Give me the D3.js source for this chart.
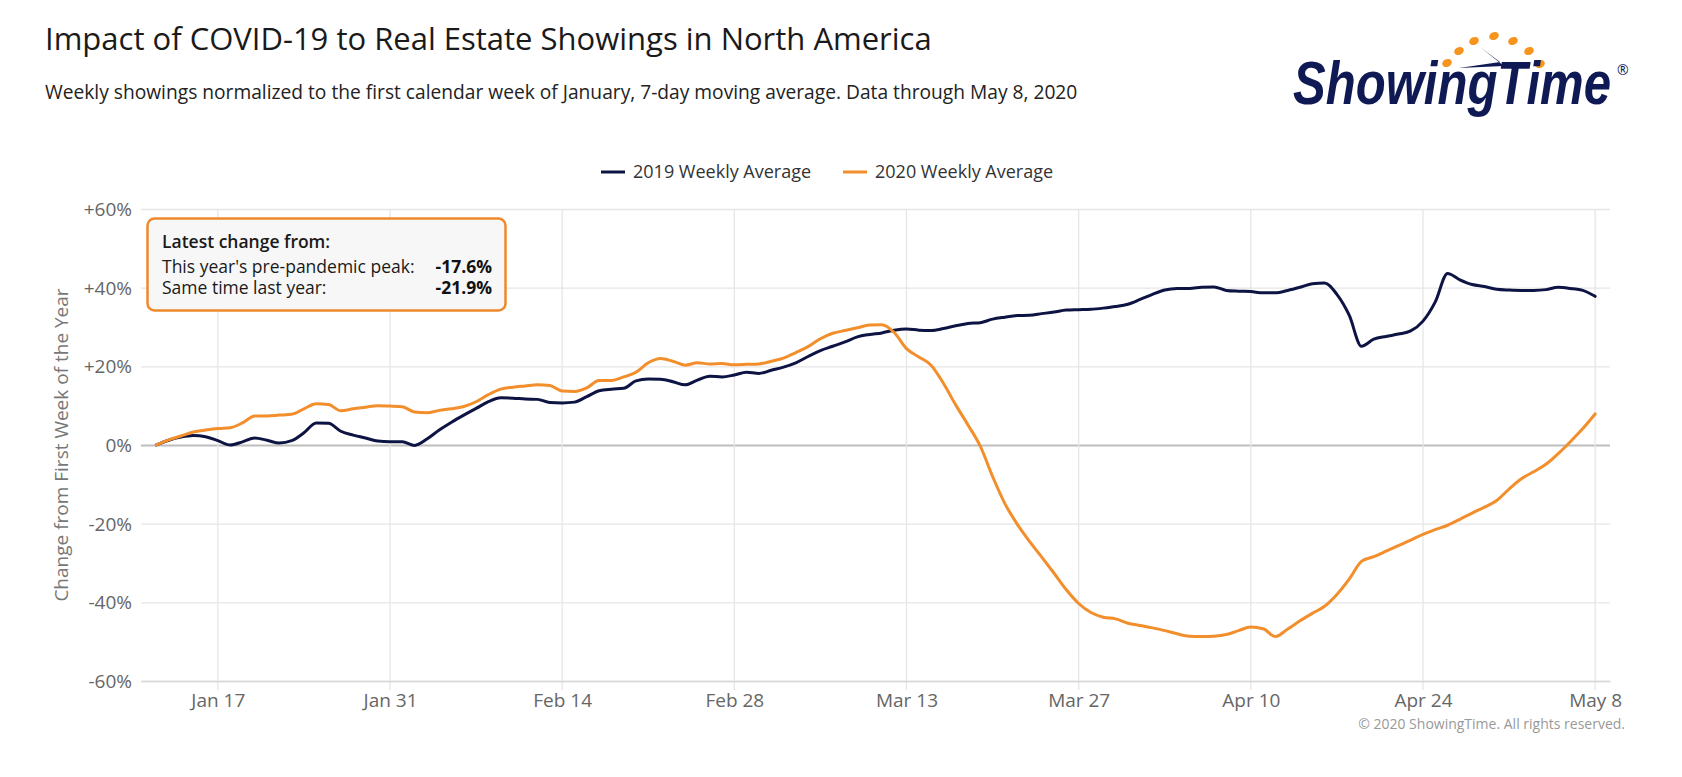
<!DOCTYPE html>
<html>
<head>
<meta charset="utf-8">
<script src="https://cdnjs.cloudflare.com/ajax/libs/d3/7.8.5/d3.min.js"></script>
<style>
  body { margin: 0; background: #fff; }
  svg { display: block; font-family: "Open Sans", "Noto Sans", sans-serif; }
</style>
</head>
<body>
<div id="chart"></div>
<script>
// ---- data (daily 7-day moving average, % change vs first week of January) ----
const startDate = "2020-01-12";
const tickLabels = ["2020-01-17", "2020-01-31", "2020-02-14", "2020-02-28", "2020-03-13",
                    "2020-03-27", "2020-04-10", "2020-04-24", "2020-05-08"];
const yTicks = [-60, -40, -20, 0, 20, 40, 60];
const seriesNames = ["2019 Weekly Average", "2020 Weekly Average"];

const values2019 = [
  0, 1.2, 2.0, 2.4, 2.1, 1.1, 0.0, 0.8, 1.8, 1.2,          // Jan 12-21
  0.5, 1.1, 3.1, 5.6, 5.5, 3.5, 2.5, 1.8, 1.0, 0.8,        // Jan 22-31
  0.8, -0.1, 1.5, 3.8, 5.8, 7.6, 9.3, 11.0, 12.0, 11.9,    // Feb 1-10
  11.7, 11.6, 10.8, 10.7, 10.9, 12.3, 13.8, 14.2, 14.4, 16.3, // Feb 11-20
  16.8, 16.7, 16.1, 15.3, 16.5, 17.5, 17.3, 17.8, 18.5,    // Feb 21-29
  18.2, 19.0, 19.8, 20.9, 22.5, 24.0, 25.1, 26.2, 27.5, 28.1, // Mar 1-10
  28.5, 29.2, 29.5, 29.2, 29.1, 29.6, 30.3, 30.9, 31.1, 32.0, // Mar 11-20
  32.5, 32.9, 33.0, 33.4, 33.8, 34.3, 34.4, 34.5, 34.8, 35.2, 35.8, // Mar 21-31
  37.0, 38.3, 39.4, 39.8, 39.8, 40.1, 40.2, 39.3, 39.1, 39.0, // Apr 1-10
  38.7, 38.7, 39.3, 40.1, 41.0, 41.2, 38.3, 33.0, 25.1, 26.9, // Apr 11-20
  27.6, 28.2, 29.0, 31.5, 36.4, 43.6, 42.0, 40.8, 40.3, 39.6, // Apr 21-30
  39.4, 39.3, 39.3, 39.5, 40.1, 39.8, 39.3, 37.8            // May 1-8
];

const values2020 = [
  0, 1.3, 2.3, 3.3, 3.8, 4.2, 4.4, 5.6, 7.4, 7.4,          // Jan 12-21
  7.6, 7.8, 9.2, 10.5, 10.3, 8.7, 9.2, 9.6, 10.0, 9.9,     // Jan 22-31
  9.7, 8.4, 8.2, 8.8, 9.2, 9.8, 11.0, 12.8, 14.2, 14.7,    // Feb 1-10
  15.0, 15.3, 15.1, 13.7, 13.6, 14.5, 16.4, 16.4, 17.3, 18.5, // Feb 11-20
  20.9, 22.0, 21.3, 20.3, 20.9, 20.6, 20.7, 20.4, 20.5,    // Feb 21-29
  20.6, 21.3, 22.1, 23.5, 25.0, 27.0, 28.4, 29.1, 29.8, 30.5, // Mar 1-10
  30.6, 28.6, 24.5, 22.4, 20.3, 15.7, 10.2, 5.1, -0.3, -8.0, // Mar 11-20
  -14.9, -20.1, -24.5, -28.5, -32.6, -36.8, -40.3, -42.6, -43.8, -44.2, -45.3, // Mar 21-31
  -45.9, -46.5, -47.2, -48.0, -48.6, -48.7, -48.6, -48.2, -47.2, -46.3, // Apr 1-10
  -46.7, -48.7, -46.8, -44.7, -42.8, -41.0, -38.0, -34.1, -29.6, -28.4, // Apr 11-20
  -27.0, -25.6, -24.2, -22.7, -21.5, -20.4, -18.9, -17.3, -15.8, -14.1, // Apr 21-30
  -11.2, -8.6, -6.8, -4.9, -2.2, 0.9, 4.2, 7.9              // May 1-8
];

const boxLabels = ["This year's pre-pandemic peak:", "Same time last year:"];
const boxValues = ["-17.6%", "-21.9%"];

// ---- layout ----
const W = 1682, H = 777;
const plot = {left: 141, right: 1610, top: 209, bottom: 681};
const navy = "#0d1443", orange = "#f28e2b";

const svg = d3.select("#chart").append("svg")
    .attr("width", W)
    .attr("height", H);

const parse = d3.utcParse("%Y-%m-%d");
const start = parse(startDate);
const toSeries = vals => vals.map((v, i) => ({date: d3.utcDay.offset(start, i), value: v}));
const series = [
  {name: seriesNames[0], color: navy, data: toSeries(values2019)},
  {name: seriesNames[1], color: orange, data: toSeries(values2020)}
];

const x = d3.scaleUtc()
    .domain([new Date(Date.UTC(2020, 0, 10, 18)), new Date(Date.UTC(2020, 4, 9, 5))])
    .range([plot.left, plot.right]);

const y = d3.scaleLinear()
    .domain([-60, 60])
    .range([plot.bottom, plot.top]);

// Title and subtitle
svg.append("text")
    .attr("x", 45).attr("y", 50)
    .attr("font-size", 31).attr("fill", "#1a1a1a")
    .text("Impact of COVID-19 to Real Estate Showings in North America");

svg.append("text")
    .attr("x", 45).attr("y", 99)
    .attr("font-size", 19.2).attr("fill", "#222")
    .text("Weekly showings normalized to the first calendar week of January, 7-day moving average. Data through May 8, 2020");

// Horizontal gridlines + y labels
const yAxis = d3.axisLeft(y)
    .tickValues(yTicks)
    .tickSize(-(plot.right - plot.left))
    .tickFormat(d => d > 0 ? "+" + d + "%" : d + "%");

const gy = svg.append("g")
    .attr("transform", `translate(${plot.left},0)`)
    .call(yAxis);
gy.select(".domain").remove();
gy.selectAll(".tick line")
    .attr("stroke", d => d === 0 ? "#bdbdbd" : "#e6e6e6")
    .attr("stroke-width", d => d === 0 ? 2 : 1.3);
gy.selectAll(".tick text")
    .attr("x", -9).attr("dy", "0.34em")
    .attr("font-size", 19).attr("fill", "#666")
    .attr("font-family", "'Open Sans', sans-serif");

// Vertical gridlines + x labels
const xAxis = d3.axisBottom(x)
    .tickValues(tickLabels.map(parse))
    .tickSize(0)
    .tickFormat(d3.utcFormat("%b %-d"));

svg.append("g").selectAll("line")
    .data(tickLabels.map(parse))
    .join("line")
    .attr("x1", d => x(d)).attr("x2", d => x(d))
    .attr("y1", plot.top).attr("y2", plot.bottom + 9)
    .attr("stroke", "#e6e6e6").attr("stroke-width", 1.3);

const gx = svg.append("g")
    .attr("transform", `translate(0,${plot.bottom})`)
    .call(xAxis);
gx.select(".domain")
    .attr("stroke", "#d8d8d8").attr("stroke-width", 1.5);
gx.selectAll(".tick text")
    .attr("y", 13).attr("dy", "0.71em")
    .attr("font-size", 19).attr("fill", "#666")
    .attr("font-family", "'Open Sans', sans-serif");

// y axis title
svg.append("text")
    .attr("transform", `translate(68,${(plot.top + plot.bottom) / 2}) rotate(-90)`)
    .attr("text-anchor", "middle")
    .attr("font-size", 19).attr("fill", "#777")
    .text("Change from First Week of the Year");

// Lines
const line = d3.line()
    .x(d => x(d.date))
    .y(d => y(d.value))
    .curve(d3.curveMonotoneX);

svg.append("g").selectAll("path")
    .data(series)
    .join("path")
    .attr("d", d => line(d.data))
    .attr("fill", "none")
    .attr("stroke", d => d.color)
    .attr("stroke-width", 3)
    .attr("stroke-linejoin", "round")
    .attr("stroke-linecap", "round");

// Legend
const legendPos = [601, 843];
const legend = svg.append("g").selectAll("g")
    .data(series)
    .join("g")
    .attr("transform", (d, i) => `translate(${legendPos[i]},172)`);
legend.append("line")
    .attr("x1", 0).attr("x2", 24)
    .attr("stroke", d => d.color).attr("stroke-width", 3);
legend.append("text")
    .attr("x", 32).attr("dy", "0.35em")
    .attr("font-size", 18).attr("fill", "#333")
    .text(d => d.name);

// Info box
const box = svg.append("g");
box.append("rect")
    .attr("x", 147.5).attr("y", 218.5)
    .attr("width", 358).attr("height", 92)
    .attr("rx", 7)
    .attr("fill", "#f7f7f7")
    .attr("stroke", "#f0892d").attr("stroke-width", 2.5);
box.append("text")
    .attr("x", 162).attr("y", 248)
    .attr("font-size", 17.5).attr("font-weight", 600).attr("fill", "#1a1a1a")
    .text("Latest change from:");
boxLabels.forEach((t, i) => {
  box.append("text")
      .attr("x", 162).attr("y", 273 + i * 21)
      .attr("font-size", 17.5).attr("fill", "#1a1a1a")
      .text(t);
  box.append("text")
      .attr("x", 492).attr("y", 273 + i * 21)
      .attr("text-anchor", "end")
      .attr("font-size", 17.5).attr("font-weight", 700).attr("fill", "#111")
      .text(boxValues[i]);
});

// Copyright
svg.append("text")
    .attr("x", 1625).attr("y", 729)
    .attr("text-anchor", "end")
    .attr("font-size", 14).attr("fill", "#999")
    .text("\u00a9 2020 ShowingTime. All rights reserved.");

// Logo
const logo = svg.append("g");
const dots = [[1447, 63], [1459, 51], [1474, 41], [1494, 36], [1513, 41], [1529, 51], [1540, 64]];
logo.selectAll("ellipse")
    .data(dots)
    .join("ellipse")
    .attr("cx", d => d[0]).attr("cy", d => d[1])
    .attr("rx", 5).attr("ry", 3.8)
    .attr("transform", d => `rotate(-25,${d[0]},${d[1]})`)
    .attr("fill", "#f7941d");
logo.append("path")
    .attr("d", "M1480,47 L1504,66 L1459,68 L1500,62 Z")
    .attr("fill", "#0f1a55");
// squeeze the wordmark horizontally so it keeps its tall, narrow look
const logoText = logo.append("text")
    .attr("x", 0).attr("y", 0)
    .attr("font-family", "'Liberation Sans', Arial, sans-serif")
    .attr("font-size", 61).attr("font-weight", 900).attr("font-style", "italic")
    .attr("fill", "#0f1a55")
    .text("ShowingTime");
const naturalWidth = logoText.node().getComputedTextLength();
logoText.attr("transform", `translate(1293,104) scale(${318 / naturalWidth},1)`);
logo.append("text")
    .attr("x", 1617).attr("y", 75)
    .attr("font-size", 14).attr("fill", "#0f1a55")
    .text("\u00ae");
</script>
</body>
</html>
